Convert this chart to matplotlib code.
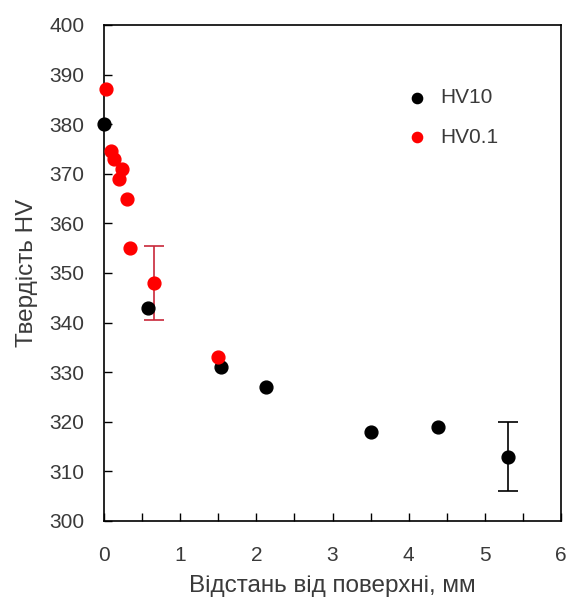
import matplotlib
matplotlib.use("Agg")
import matplotlib.pyplot as plt
import numpy as np

# HV10 (black)
hv10_x = [0.0, 0.58, 1.53, 2.13, 3.51, 4.39, 5.30]
hv10_y = [380, 343, 331, 327, 318, 319, 313]
hv10_err = [0, 0, 0, 0, 0, 0, 7]

# HV0.1 (red)
hv01_x = [0.03, 0.09, 0.13, 0.24, 0.20, 0.30, 0.34, 0.65, 1.50]
hv01_y = [387, 374.5, 373, 371, 369, 365, 355, 348, 333]
hv01_err = [0, 0, 0, 0, 0, 0, 0, 7.5, 0]

x_ticks = np.arange(0, 6.01, 0.5)
x_labels = [str(int(t)) if t == int(t) else '' for t in x_ticks]
y_ticks = list(range(300, 401, 10))

plt.rcParams['font.family'] = ['Liberation Sans', 'DejaVu Sans']
txt = '#3a3a3a'

fig = plt.figure(figsize=(5.68, 5.98), dpi=100)
ax = fig.add_axes([0.1831, 0.1288, 0.8046, 0.8294])

i10 = [i for i, e in enumerate(hv10_err) if e > 0]
ax.errorbar(np.array(hv10_x)[i10], np.array(hv10_y)[i10], yerr=np.array(hv10_err)[i10],
            fmt='none', ecolor='black', elinewidth=1.2, capsize=7, capthick=1.2, zorder=2)
i01 = [i for i, e in enumerate(hv01_err) if e > 0]
ax.errorbar(np.array(hv01_x)[i01], np.array(hv01_y)[i01], yerr=np.array(hv01_err)[i01],
            fmt='none', ecolor='#c8283a', elinewidth=1.2, capsize=7, capthick=1.2, zorder=2)

ax.scatter(hv10_x, hv10_y, s=85, color='black', label='HV10', zorder=3, clip_on=False)
ax.scatter(hv01_x, hv01_y, s=85, color='#ff0000', label='HV0.1', zorder=3, clip_on=False)

ax.set_xlim(0, 6)
ax.set_ylim(300, 400)
ax.set_xticks(x_ticks)
ax.set_xticklabels(x_labels)
ax.set_yticks(y_ticks)
ax.tick_params(direction='in', length=6, width=1.0, labelsize=15, colors='black',
               labelcolor=txt)
ax.tick_params(axis='x', pad=18)
ax.tick_params(axis='y', pad=14)
for s in ax.spines.values():
    s.set_linewidth(1.2)

ax.set_xlabel('Відстань від поверхні, мм', fontsize=17.5, color=txt, labelpad=7)
ax.set_ylabel('Твердість HV', fontsize=17.5, color=txt, labelpad=8)

ax.legend(loc='center left', bbox_to_anchor=(0.662, 0.8135), frameon=False, fontsize=15,
          handlelength=1.0, handletextpad=0.6, labelspacing=1.0, borderpad=0,
          borderaxespad=0, scatterpoints=1, markerscale=0.8, labelcolor=txt)

fig.savefig('out.png', dpi=100)
